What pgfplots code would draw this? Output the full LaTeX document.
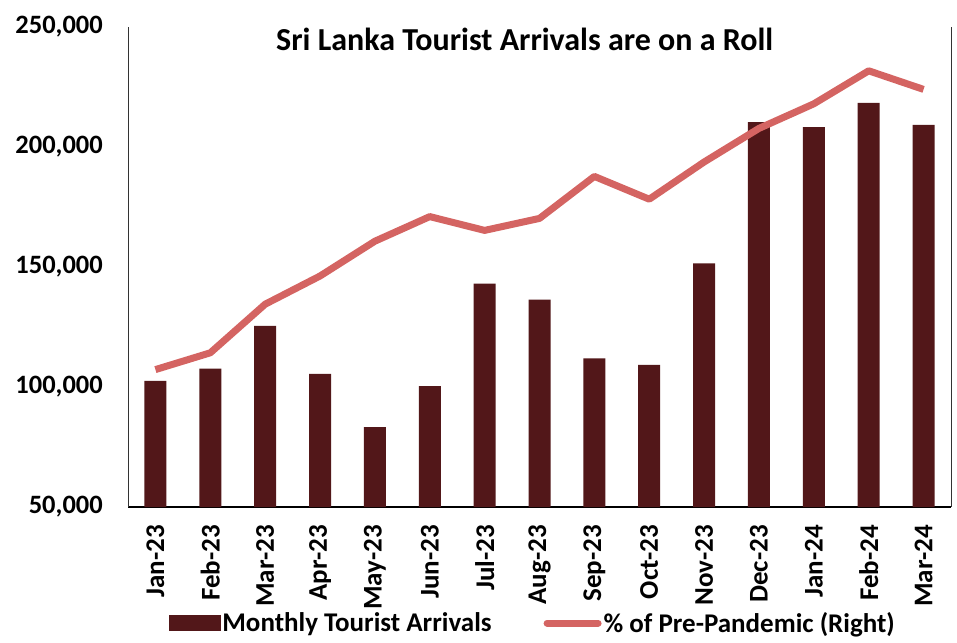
\documentclass[border=0pt]{standalone}
\usepackage{fontspec}
\setmainfont{Carlito}
\usepackage{pgfplots}
\pgfplotsset{compat=1.18}
\definecolor{barc}{HTML}{521719}
\definecolor{lnc}{HTML}{D46462}
\begin{document}
\begin{tikzpicture}
\useasboundingbox (0,0) rectangle (957pt,642pt);
\begin{axis}[
  at={(128pt,135pt)}, anchor=south west, scale only axis,
  width=823pt, height=480pt,
  xmin=-0.5, xmax=14.5, ymin=50000, ymax=250000,
  axis x line*=bottom, axis y line*=left,
  axis line style={-},
  x axis line style={line width=2.5pt, black},
  y axis line style={line width=1pt, black!80},
  major tick length=0pt,
  xtick={0,...,14},
  xticklabels={Jan-23,Feb-23,Mar-23,Apr-23,May-23,Jun-23,Jul-23,Aug-23,Sep-23,Oct-23,Nov-23,Dec-23,Jan-24,Feb-24,Mar-24},
  x tick label style={font=\fontsize{27}{30}\selectfont\bfseries, rotate=90, anchor=east, inner sep=0pt, xshift=-18pt},
  ytick={50000,100000,150000,200000,250000},
  scaled y ticks=false,
  yticklabels={{50,000},{100,000},{150,000},{200,000},{250,000}},
  y tick label style={font=\fontsize{26.5}{30}\selectfont\bfseries, anchor=east, inner sep=0pt, xshift=-25pt},
  title={Sri Lanka Tourist Arrivals are on a Roll},
  title style={at={(0.482,0.962)}, anchor=center, font=\fontsize{32}{36}\selectfont\bfseries},
  clip=false,
]
\addplot[ybar, bar width=22pt, fill=barc, draw=none] coordinates {
(0,102545) (1,107639) (2,125495) (3,105498) (4,83309) (5,100388) (6,143039) (7,136405)
(8,111938) (9,109199) (10,151496) (11,210352) (12,208253) (13,218350) (14,209181)};
\end{axis}
\begin{axis}[
  at={(128pt,135pt)}, anchor=south west, scale only axis,
  width=823pt, height=480pt,
  xmin=-0.5, xmax=14.5, ymin=20, ymax=100,
  axis y line*=right, axis x line=none,
  axis line style={-, line width=1pt, black!80},
  ytick=\empty, xtick=\empty,
  legend columns=2,
  legend style={at={(0.492,-0.242)}, anchor=center, draw=none, fill=none,
    font=\fontsize{27}{30}\selectfont\bfseries,
    /tikz/every even column/.append style={column sep=50pt}},
]
\addlegendimage{legend image code/.code={\fill[barc] (0pt,-7.5pt) rectangle (51pt,7.5pt);}}
\addlegendentry{Monthly Tourist Arrivals}
\addplot[lnc, line width=7pt, line join=round, mark=none,
  legend image code/.code={\draw[lnc, line width=7pt, line cap=round] (3pt,0pt) -- (54pt,0pt);}]
coordinates {
(0,42.9) (1,45.7) (2,53.8) (3,58.5) (4,64.3) (5,68.4) (6,66.1) (7,68.1)
(8,75.1) (9,71.3) (10,77.5) (11,83.1) (12,87.2) (13,92.7) (14,89.6)};
\addlegendentry{\% of Pre-Pandemic (Right)}
\end{axis}
\end{tikzpicture}
\end{document}
